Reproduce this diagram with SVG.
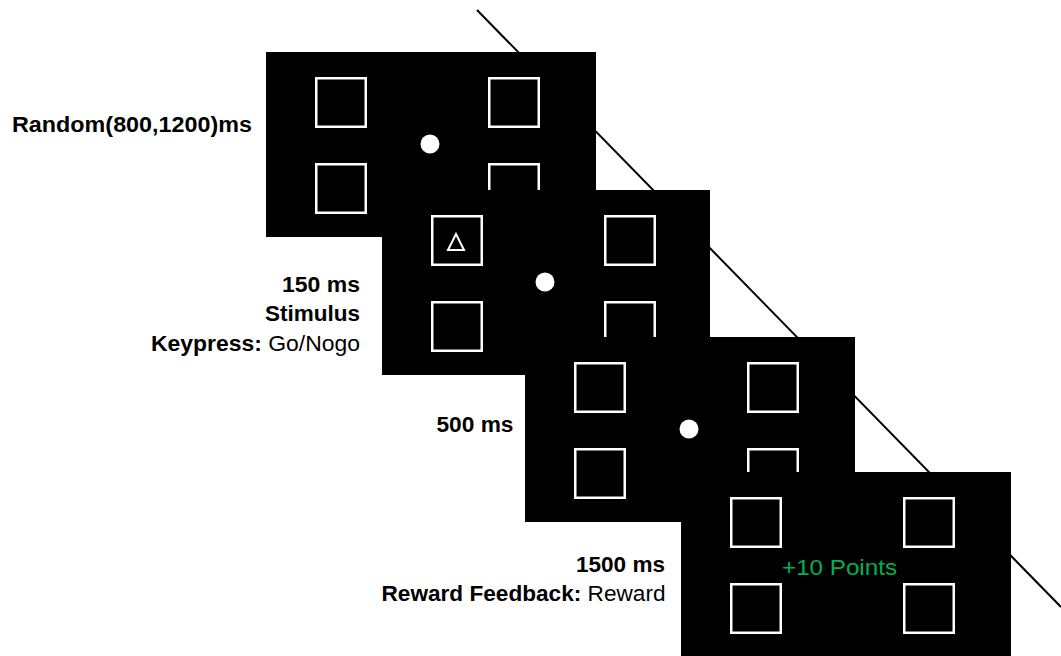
<svg xmlns="http://www.w3.org/2000/svg" width="1061" height="656" viewBox="0 0 1061 656">
<style>
.scr{fill:#000}
.sq{fill:none;stroke:#fff;stroke-width:2.5}
.dot{fill:#fff}
.lbl{font-family:"Liberation Sans",Arial,sans-serif;font-size:22px;fill:#000}
.b{font-weight:bold}
.pts{font-family:"Liberation Sans",Arial,sans-serif;font-size:22px;fill:#00B050}
.tl{stroke:#000;stroke-width:2;fill:none}
</style>
<defs>
<g id="squares">
<rect class="sq" x="50.25" y="26.25" width="49.5" height="48.5"/>
<rect class="sq" x="223.25" y="26.25" width="49.5" height="48.5"/>
<rect class="sq" x="50.25" y="112.25" width="49.5" height="48.5"/>
<rect class="sq" x="223.25" y="112.25" width="49.5" height="48.5"/>
</g>
</defs>
<rect width="1061" height="656" fill="#fff"/>
<g id="connectors">
<line class="tl" x1="477" y1="10" x2="1061" y2="607"/>
</g>
<g id="screen1">
<rect class="scr" x="266" y="52" width="330" height="185"/>
<use href="#squares" transform="translate(266,52)"/>
<circle class="dot" cx="430" cy="144" r="9.5"/>
<text class="lbl b" x="12" y="131.5" textLength="240" lengthAdjust="spacingAndGlyphs">Random(800,1200)ms</text>
</g>
<g id="screen2">
<rect class="scr" x="382" y="190" width="328" height="185"/>
<use href="#squares" transform="translate(382,190)"/>
<polygon points="456,234 448,250 464,250" fill="none" stroke="#fff" stroke-width="2"/>
<circle class="dot" cx="545" cy="282" r="9.5"/>
<text class="lbl b" x="282" y="291.5" textLength="78" lengthAdjust="spacingAndGlyphs">150 ms</text>
<text class="lbl b" x="265" y="320.5" textLength="95" lengthAdjust="spacingAndGlyphs">Stimulus</text>
<text class="lbl" x="151" y="350.5" textLength="209" lengthAdjust="spacingAndGlyphs"><tspan class="b">Keypress:</tspan> Go/Nogo</text>
</g>
<g id="screen3">
<rect class="scr" x="525" y="337" width="330" height="185"/>
<use href="#squares" transform="translate(525,337)"/>
<circle class="dot" cx="689" cy="429" r="9.5"/>
<text class="lbl b" x="436.5" y="431.5" textLength="77" lengthAdjust="spacingAndGlyphs">500 ms</text>
</g>
<g id="screen4">
<rect class="scr" x="681" y="472" width="330" height="185"/>
<use href="#squares" transform="translate(681,472)"/>
<text class="pts" x="782" y="575" textLength="115" lengthAdjust="spacingAndGlyphs">+10 Points</text>
<text class="lbl b" x="576" y="572" textLength="89" lengthAdjust="spacingAndGlyphs">1500 ms</text>
<text class="lbl" x="381.5" y="601" textLength="284" lengthAdjust="spacingAndGlyphs"><tspan class="b">Reward Feedback:</tspan> Reward</text>
</g>
</svg>
